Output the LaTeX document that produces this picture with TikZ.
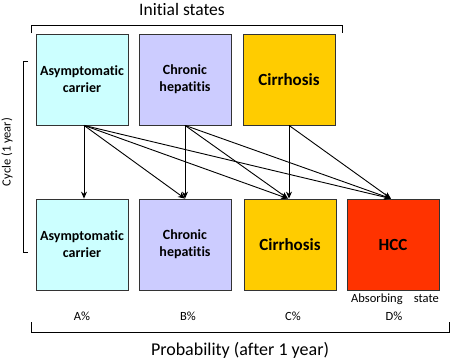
\documentclass[tikz,border=0pt]{standalone}
\usepackage{fontspec}
\setmainfont[Ligatures=NoCommon]{Carlito}
\usetikzlibrary{arrows.meta}
\definecolor{cAC}{HTML}{CCFFFF}
\definecolor{cCH}{HTML}{CCCCFF}
\definecolor{cCI}{HTML}{FFCC00}
\definecolor{cHCC}{HTML}{FF3300}
\begin{document}
\begin{tikzpicture}[x=1pt,y=-1pt,
  statebox/.style={draw=black!80, line width=0.8pt, minimum width=92pt, minimum height=91pt, inner sep=0pt, align=center, font=\bfseries\fontsize{14}{17}\selectfont},
  bigtext/.style={font=\bfseries\fontsize{17}{20}\selectfont},
  flow/.style={-{Stealth[length=7pt,width=6pt]}, line width=0.9pt},
  brk/.style={line width=0.8pt},
  small/.style={font=\fontsize{12.5}{15}\selectfont}]
\useasboundingbox (0,0) rectangle (450,360);
% top row
\node[statebox, fill=cAC] (a1) at (82,79.5) {Asymptomatic\\carrier};
\node[statebox, fill=cCH] (b1) at (185,79.5) {Chronic\\hepatitis};
\node[statebox, fill=cCI, bigtext] (c1) at (289,79.5) {Cirrhosis};
% bottom row
\node[statebox, fill=cAC] (a2) at (82,244.5) {Asymptomatic\\carrier};
\node[statebox, fill=cCH] (b2) at (185,244.5) {Chronic\\hepatitis};
\node[statebox, fill=cCI, bigtext] (c2) at (290,244.5) {Cirrhosis};
\node[statebox, fill=cHCC, bigtext] (d2) at (393,244.5) {HCC};
% arrows
\coordinate (sa) at ([xshift=2pt]a1.south);
\coordinate (sb) at (b1.south);
\coordinate (sc) at (c1.south);
\coordinate (ta) at (a2.north);
\coordinate (tb) at (b2.north);
\coordinate (tc) at ([xshift=-2pt]c2.north);
\coordinate (td) at ([xshift=-2pt]d2.north);
\draw[flow] (sa) -- (sa |- ta);
\draw[flow] (sa) -- (tb);
\draw[flow] (sa) -- (tc);
\draw[flow] (sa) -- (td);
\draw[flow] (sb) -- (tb);
\draw[flow] (sb) -- (tc);
\draw[flow] (sb) -- (td);
\draw[flow] (sc) -- (sc |- tc);
\draw[flow] (sc) -- (td);
% brackets
\coordinate (tl) at (31,33);
\coordinate (tr) at (342,33);
\draw[brk] (tl) -- ++(0,-8) -| (tr);
\node[font=\fontsize{17.5}{20}\selectfont] (init) at (182,9) {Initial states};
\coordinate (lt) at (28,61);
\coordinate (lb) at (28,252);
\draw[brk] (lt) -- ++(-5,0) |- (lb);
\node[small, rotate=90] (cyc) at (7,152) {Cycle (1 year)};
\coordinate (bl) at (31,322);
\coordinate (br) at (449,322);
\draw[brk] (bl) -- ++(0,10) -| (br);
\node[font=\fontsize{18}{21}\selectfont] (prob) at (240,350) {Probability (after 1 year)};
\node[small] (pa) at (82,316) {A\%};
\node[small] (pb) at (188,316) {B\%};
\node[small] (pc) at (293,316) {C\%};
\node[small] (pd) at (394,316) {D\%};
\node[small] (abs) at (395,299) {Absorbing\hspace{0.9em}state};
\end{tikzpicture}
\end{document}
